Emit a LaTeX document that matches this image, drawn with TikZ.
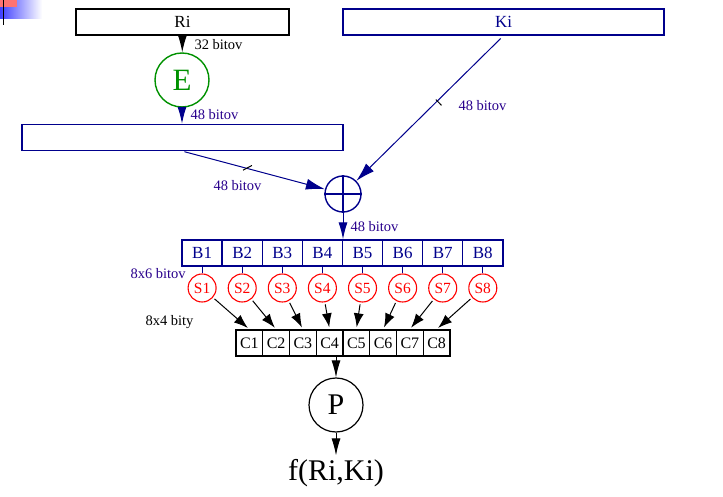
\documentclass[tikz,border=0pt]{standalone}
\usepackage{fontspec}
\setmainfont{Liberation Serif}
\usetikzlibrary{arrows.meta,decorations.markings}
\definecolor{navy}{RGB}{0,0,140}
\definecolor{bitc}{RGB}{40,0,140}
\definecolor{egreen}{RGB}{0,145,0}
\newcommand{\fsz}[1]{\fontsize{#1}{#1}\selectfont}

\begin{document}
\begin{tikzpicture}[x=1pt,y=-1pt, line width=1pt,
	wbox/.style={draw, line width=1.4pt, minimum height=26pt, inner sep=0pt, font=\fsz{17}},
	bcell/.style={draw=navy, line width=1.4pt, text=navy, minimum width=40.1pt, minimum height=26pt, inner sep=0pt, font=\fsz{17}},
	ccell/.style={draw, line width=1.4pt, minimum width=26.75pt, minimum height=26pt, inner sep=0pt, font=\fsz{16}},
	scirc/.style={circle, draw=red, text=red, line width=1.1pt, minimum size=28pt, inner sep=0pt, font=\fsz{15.5}},
	bits/.style={text=bitc, anchor=west, inner sep=0pt, font=\fsz{14.5}},
	arr/.style={-{Latex[length=17pt,width=9pt]}},
	xarr/.style={-{Latex[length=19pt,width=11pt]}},
	sarr/.style={-{Latex[length=14pt,width=10pt]}},
	cut/.style args={#1/#2}{postaction={decorate, decoration={markings,
		mark=at position #1 with {\draw[-, black, line width=1pt] (#2:-6pt) -- (#2:6pt);}}}}]
	\useasboundingbox (0,0) rectangle (723,497);
	% slide corner
	\shade[left color=blue!75, right color=white] (0,0) rectangle (42,19);
	\fill[red!55] (0,0) rectangle (17,7);
	\draw[line width=1.5pt] (3.5,0) -- (3.5,25);
	% inputs and expansion
	\node[wbox, minimum width=213pt] (ri) at (182.5,22) {Ri};
	\node[wbox, draw=navy, text=navy, minimum width=321pt] (ki) at (503.5,22) {Ki};
	\node[circle, draw=egreen, text=egreen, line width=1.4pt, minimum size=54pt, inner sep=0pt, font=\fsz{31}] (e) at (182,80) {E};
	\node[wbox, draw=navy, minimum width=321pt] (wide) at (182.5,137.5) {};
	\node[circle, draw=navy, line width=1.4pt, minimum size=36pt] (xor) at (343,194) {};
	\draw[navy, line width=1.4pt] (xor.north) -- (xor.south) (xor.west) -- (xor.east);
	\draw[arr] (ri) -- (e);
	\draw[arr, navy] (e) -- (e |- wide.north);
	\draw[xarr, navy, cut=.45/43, shorten <=2pt] (wide.south) -- (xor);
	\draw[xarr, navy, cut=.45/90, shorten <=4pt] (ki.south) -- (xor);
	\node[bits, text=black] (l32) at (194,45) {32 bitov};
	\node[bits] (l48a) at (190,115) {48 bitov};
	\node[bits] (l48b) at (213,186) {48 bitov};
	\node[bits] (l48c) at (458,106) {48 bitov};
	\node[bits] (l48d) at (350,227) {48 bitov};
	% S-boxes
	\foreach \i in {1,...,8} {
		\node[bcell] (b\i) at ({162+40.1*\i},253) {B\i};
		\node[scirc] (s\i) at ({162+40.1*\i},288) {S\i};
		\node[ccell] (c\i) at ({222.6+26.75*\i},343) {C\i};
		\draw[navy] (b\i) -- (s\i);
	}
	\foreach \i in {1,...,8}
		\draw[sarr, shorten <=2pt, shorten >=2pt] (s\i) -- (c\i.north);
	\draw[arr, navy] (xor) -- (xor |- b1.north);
	\node[bits] (l86) at (130,274) {8x6 bitov};
	\node[bits, text=black] (l84) at (145,322) {8x4 bity};
	% permutation
	\node[circle, draw, line width=1.2pt, minimum size=54pt, inner sep=0pt, font=\fsz{30}] (p) at (336,405) {P};
	\node[font=\fsz{30}] (f) at (336,473) {f(Ri,Ki)};
	\draw[arr] (p |- c1.south) -- (p);
	\draw[arr] (p) -- (f);
\end{tikzpicture}
\end{document}
